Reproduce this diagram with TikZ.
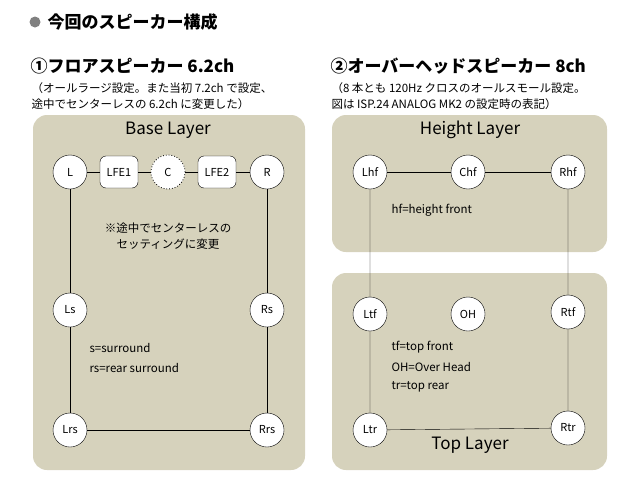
\documentclass[tikz,border=0pt]{standalone}
\usepackage{fontspec}
\setmainfont{Noto Sans CJK JP}
\definecolor{panel}{RGB}{214,210,188}
\begin{document}
\begin{tikzpicture}[x=1pt,y=-1pt,
  spk/.style={circle, draw, fill=white, minimum size=34pt, inner sep=0pt, font=\fontsize{11}{13}\selectfont},
  sub/.style={rectangle, rounded corners=6pt, draw, fill=white, minimum width=38pt, minimum height=32pt, inner sep=0pt, font=\fontsize{11}{13}\selectfont},
  layer/.style={fill=panel, rounded corners=14pt},
  ltitle/.style={font=\fontsize{17}{20}\selectfont},
  note/.style={anchor=west, font=\fontsize{11.5}{14}\selectfont},
  head/.style={anchor=west, font=\bfseries\fontsize{17}{20}\selectfont}]
\useasboundingbox (0,0) rectangle (640,498);

% headings
\fill[gray] (35,22) circle (5.5);
\node[head] (title) at (44,22) {今回のスピーカー構成};
\node[head] (floor) at (27,66) {①フロアスピーカー 6.2ch};
\node[note] (fn1) at (28,88) {（オールラージ設定。また当初 7.2ch で設定、};
\node[note] (fn2) at (28,104) {途中でセンターレスの 6.2ch に変更した）};
\node[head] (over) at (327,66) {②オーバーヘッドスピーカー 8ch};
\node[note] (on1) at (328,88) {（8 本とも 120Hz クロスのオールスモール設定。};
\node[note] (on2) at (328,104) {図は ISP.24 ANALOG MK2 の設定時の表記）};

% panels
\fill[layer] (33,115) rectangle (305,470);
\fill[layer] (332,115) rectangle (607,252);
\fill[layer] (332,273) rectangle (607,470);
\node[ltitle] (base) at (168,130) {Base Layer};
\node[ltitle] (height) at (470,130) {Height Layer};
\node[ltitle] (top) at (470,445) {Top Layer};

% floor speakers
\node[spk] (L) at (70,172) {L};
\node[sub] (LFE1) at (119,172) {LFE1};
\node[spk, dotted, thick] (C) at (168,172) {C};
\node[sub] (LFE2) at (217,172) {LFE2};
\node[spk] (R) at (267,172) {R};
\node[spk] (Ls) at (70,310) {Ls};
\node[spk] (Rs) at (267,310) {Rs};
\node[spk] (Lrs) at (70,430) {Lrs};
\node[spk] (Rrs) at (267,430) {Rrs};
\draw (L) -- (LFE1) -- (C) -- (LFE2) -- (R);
\draw (L) -- (Ls) -- (Lrs) -- (Rrs) -- (Rs) -- (R);
\node[font=\fontsize{11.5}{16}\selectfont, align=center] (memo) at (168,236) {※途中でセンターレスの\\セッティングに変更};
\node[note] (s1) at (86,348) {s=surround};
\node[note] (s2) at (86,368) {rs=rear surround};

% overhead speakers
\node[spk] (Lhf) at (370,172) {Lhf};
\node[spk] (Chf) at (468,172) {Chf};
\node[spk] (Rhf) at (568,172) {Rhf};
\node[spk] (Ltf) at (370,314) {Ltf};
\node[spk] (OH) at (468,314) {OH};
\node[spk] (Rtf) at (568,312) {Rtf};
\node[spk] (Ltr) at (370,430) {Ltr};
\node[spk] (Rtr) at (568,428) {Rtr};
\draw (Lhf) -- (Chf) -- (Rhf);
\draw (Lhf) -- (Ltf) -- (Ltr) -- (Rtr) -- (Rtf) -- (Rhf);
\node[note] (h1) at (388,210) {hf=height front};
\node[note] (t1) at (388,347) {tf=top front};
\node[note] (t2) at (388,367) {OH=Over Head};
\node[note] (t3) at (388,387) {tr=top rear};
\end{tikzpicture}
\end{document}
